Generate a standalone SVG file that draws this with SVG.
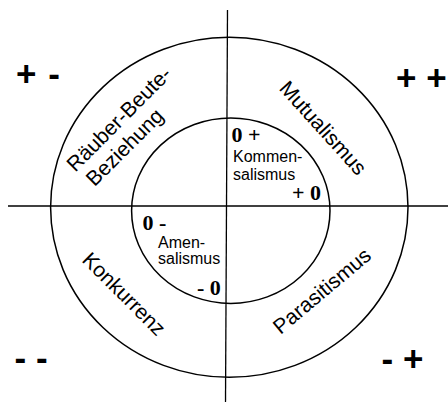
<svg xmlns="http://www.w3.org/2000/svg" width="448" height="402" viewBox="0 0 448 402">
<style>
.ln{stroke:#000;stroke-width:1.3;fill:none}
.ring{stroke:#000;stroke-width:1.5;fill:none}
.sign{font-family:"Liberation Sans",Arial,sans-serif;font-weight:bold;font-size:35px;fill:#000}
.lab{font-family:"Liberation Sans",Arial,sans-serif;font-size:21px;fill:#000;text-anchor:middle}
.small{font-family:"Liberation Sans",Arial,sans-serif;font-size:16px;fill:#000}
.num{font-family:"Liberation Serif","Times New Roman",serif;font-weight:bold;font-size:22px;fill:#000}
</style>
<rect width="448" height="402" fill="#fff"/>
<g id="connectors">
<line class="ln" x1="227.5" y1="10" x2="225.5" y2="402"/>
<line class="ln" x1="8" y1="206" x2="448" y2="206"/>
</g>
<g id="outer-ring"><ellipse class="ring" cx="229.3" cy="207.3" rx="178.7" ry="170"/></g>
<g id="inner-ring"><ellipse class="ring" cx="230.8" cy="210.7" rx="99.2" ry="92.7"/></g>
<g id="q-plus-minus"><text class="sign" x="16" y="86" word-spacing="2">+ -</text></g>
<g id="q-plus-plus"><text class="sign" x="396" y="90">+ +</text></g>
<g id="q-minus-minus"><text class="sign" x="14.6" y="370">- -</text></g>
<g id="q-minus-plus"><text class="sign" x="381.5" y="371">- +</text></g>
<g id="raeuber" transform="translate(119,119) rotate(-45)">
<text class="lab" x="0" y="7">Räuber-Beute-</text>
<text class="lab" x="-16" y="31">Beziehung</text>
</g>
<g id="mutualismus" transform="translate(323,128) rotate(48)"><text class="lab" x="0" y="7">Mutualismus</text></g>
<g id="konkurrenz" transform="translate(124,294) rotate(45)"><text class="lab" x="0" y="7">Konkurrenz</text></g>
<g id="parasitismus" transform="translate(322,291) rotate(-40)"><text class="lab" x="0" y="7">Parasitismus</text></g>
<g id="kommensalismus">
<text class="num" x="231.5" y="142">0 +</text>
<text class="small" x="233" y="162">Kommen-</text>
<text class="small" x="233" y="180">salismus</text>
<text class="num" x="292" y="200">+ 0</text>
</g>
<g id="amensalismus">
<text class="num" x="142.5" y="230">0 -</text>
<text class="small" x="158" y="248">Amen-</text>
<text class="small" x="158" y="264">salismus</text>
<text class="num" x="197" y="295">- 0</text>
</g>
</svg>
